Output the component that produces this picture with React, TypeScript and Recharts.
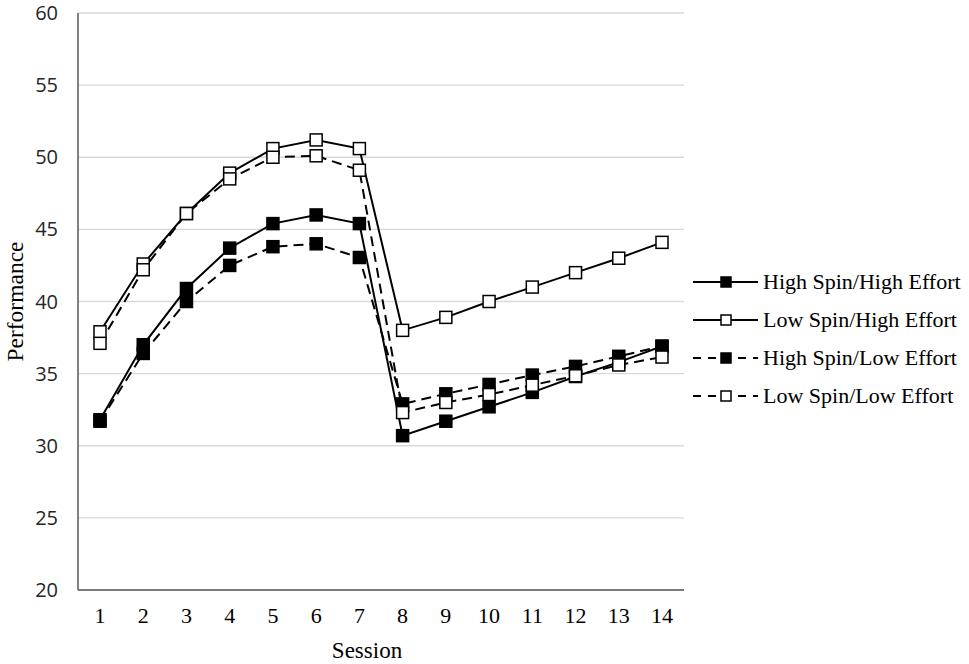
import React from "react";
import { LineChart, Line, XAxis, YAxis, CartesianGrid, Legend } from "recharts";

const sessions = ["1", "2", "3", "4", "5", "6", "7", "8", "9", "10", "11", "12", "13", "14"];
const highSpinHighEffort = [31.8, 37.0, 40.9, 43.7, 45.4, 46.0, 45.4, 30.7, 31.7, 32.7, 33.7, 34.8, 35.8, 36.9];
const lowSpinHighEffort = [37.9, 42.6, 46.1, 48.9, 50.6, 51.2, 50.6, 38.0, 38.9, 40.0, 41.0, 42.0, 43.0, 44.1];
const highSpinLowEffort = [31.7, 36.4, 40.0, 42.5, 43.8, 44.0, 43.05, 32.9, 33.6, 34.25, 34.9, 35.5, 36.2, 36.9];
const lowSpinLowEffort = [37.1, 42.2, 46.1, 48.5, 50.0, 50.1, 49.1, 32.3, 33.0, 33.55, 34.2, 34.85, 35.6, 36.15];
const yTicks = [20, 25, 30, 35, 40, 45, 50, 55, 60];

const seriesList = [
  { key: "hshe", name: "High Spin/High Effort", values: highSpinHighEffort, filled: true, dashed: false },
  { key: "lshe", name: "Low Spin/High Effort", values: lowSpinHighEffort, filled: false, dashed: false },
  { key: "hsle", name: "High Spin/Low Effort", values: highSpinLowEffort, filled: true, dashed: true },
  { key: "lsle", name: "Low Spin/Low Effort", values: lowSpinLowEffort, filled: false, dashed: true },
];

const data = sessions.map((s, i) => {
  const row: Record<string, string | number> = { session: s };
  seriesList.forEach((sr) => {
    row[sr.key] = sr.values[i];
  });
  return row;
});

const serif = "'Liberation Serif', 'Times New Roman', serif";

const squareDot = (filled: boolean) => (props: any) => {
  const { cx, cy, index } = props;
  return (
    <rect
      key={`dot-${index}`}
      x={cx - 6}
      y={cy - 6}
      width={12}
      height={12}
      fill={filled ? "#000" : "#fff"}
      stroke="#000"
      strokeWidth={1.5}
    />
  );
};

function LegendBox() {
  return (
    <div style={{ fontFamily: serif, fontSize: 22, color: "#000" }}>
      {seriesList.map((s) => (
        <div key={s.key} style={{ display: "flex", alignItems: "center", height: 38 }}>
          <svg width={70} height={20} style={{ display: "block" }}>
            <line
              x1={0}
              y1={10}
              x2={65}
              y2={10}
              stroke="#000"
              strokeWidth={2}
              strokeDasharray={s.dashed ? "8 7" : undefined}
            />
            <rect x={28} y={5} width={10} height={10} fill={s.filled ? "#000" : "#fff"} stroke="#000" strokeWidth={1.5} />
          </svg>
          <span style={{ whiteSpace: "nowrap" }}>{s.name}</span>
        </div>
      ))}
    </div>
  );
}

export default function App() {
  return (
    <div style={{ position: "absolute", left: 0, top: 0, background: "#fff" }}>
      <LineChart width={969} height={664} data={data} margin={{ top: 13, right: 285, bottom: 0, left: 0 }}>
        <CartesianGrid vertical={false} stroke="#d9d9d9" strokeWidth={1.3} />
        <XAxis
          dataKey="session"
          padding={{ left: 22, right: 22 }}
          height={74}
          tickLine={false}
          tickSize={0}
          tickMargin={17}
          axisLine={{ stroke: "#595959", strokeWidth: 1.5 }}
          tick={{ fill: "#000", fontFamily: serif, fontSize: 22 }}
          label={{ value: "Session", position: "insideBottom", offset: 6, dx: -14, fill: "#000", fontFamily: serif, fontSize: 23 }}
        />
        <YAxis
          domain={[20, 60]}
          ticks={yTicks}
          width={78}
          tickLine={false}
          tickSize={0}
          tickMargin={20}
          axisLine={{ stroke: "#595959", strokeWidth: 1.5 }}
          tick={{ fill: "#262626", fontFamily: "'Open Sans', sans-serif", fontSize: 20 }}
          label={{ value: "Performance", angle: -90, position: "insideLeft", offset: 0, dx: 15, fill: "#000", fontFamily: serif, fontSize: 23.5, style: { textAnchor: "middle" } }}
        />
        <Legend
          layout="vertical"
          align="center"
          verticalAlign="middle"
          content={() => <LegendBox />}
          wrapperStyle={{ left: 693, top: 263, width: 276 }}
        />
        {seriesList.map((s) => (
          <Line
            key={s.key}
            dataKey={s.key}
            name={s.name}
            stroke="#000"
            strokeWidth={2}
            strokeDasharray={s.dashed ? "10 6" : undefined}
            dot={squareDot(s.filled)}
            activeDot={false}
            isAnimationActive={false}
          />
        ))}
      </LineChart>
    </div>
  );
}
